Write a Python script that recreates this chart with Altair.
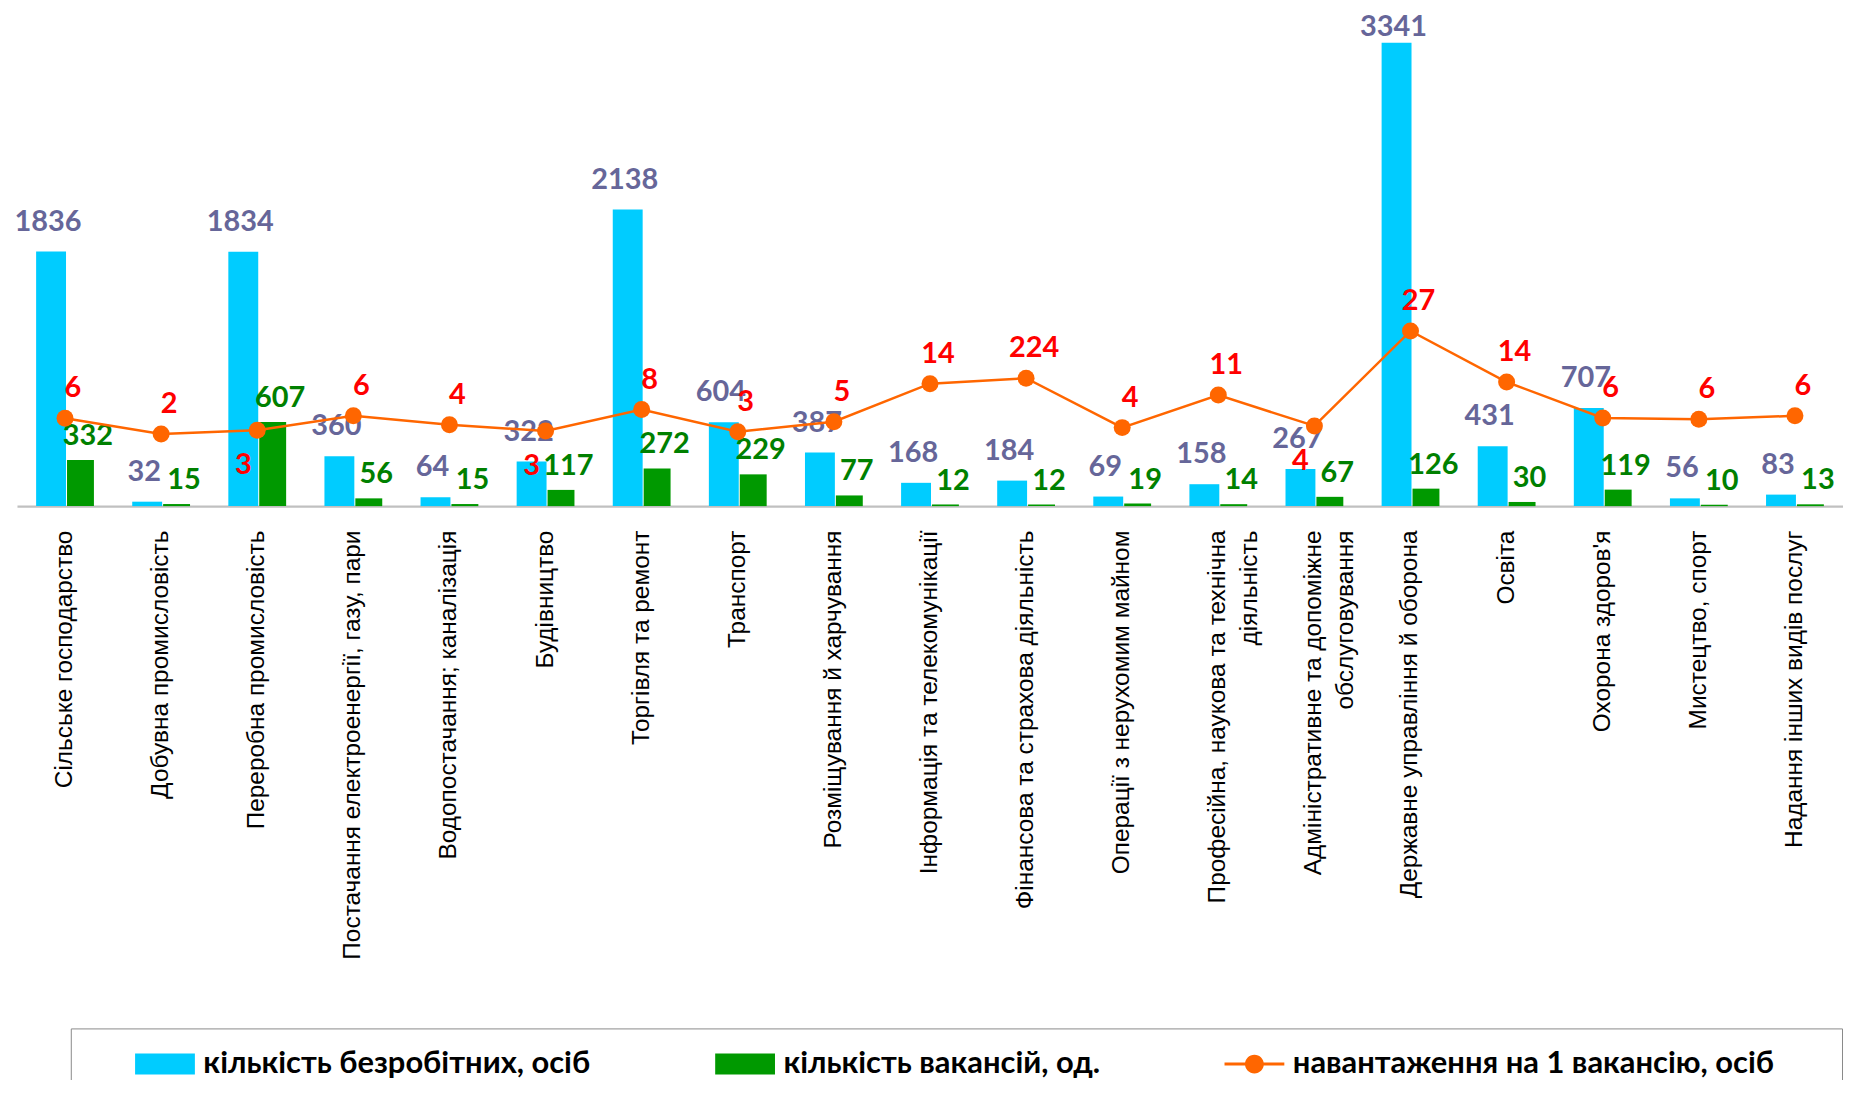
import altair as alt
import pandas as pd

categories = [
    "Сільське господарство",
    "Добувна промисловість",
    "Переробна промисловість",
    "Постачання електроенергії, газу, пари",
    "Водопостачання; каналізація",
    "Будівництво",
    "Торгівля та ремонт",
    "Транспорт",
    "Розміщування й харчування",
    "Інформація та телекомунікації",
    "Фінансова та страхова діяльність",
    "Операції з нерухомим майном",
    "Професійна, наукова та технічна|діяльність",
    "Адміністративне та допоміжне|обслуговування",
    "Державне управління й оборона",
    "Освіта",
    "Охорона здоров'я",
    "Мистецтво, спорт",
    "Надання інших видів послуг",
]
unemployed = [1836, 32, 1834, 360, 64, 322, 2138, 604, 387, 168, 184, 69, 158, 267, 3341, 431, 707, 56, 83]
vacancies = [332, 15, 607, 56, 15, 117, 272, 229, 77, 12, 12, 19, 14, 67, 126, 30, 119, 10, 13]
load_values = [5.8, 2.1, 3.0, 6.4, 4.3, 2.8, 7.9, 2.6, 5.0, 14.0, 15.3, 3.6, 11.3, 4.0, 26.5, 14.4, 5.9, 5.6, 6.4]
load_labels = ["6", "2", "3", "6", "4", "3", "8", "3", "5", "14", "224", "4", "11", "4", "27", "14", "6", "6", "6"]
load_label_below = ["Переробна промисловість", "Будівництво", "Адміністративне та допоміжне|обслуговування"]

s_unemp = "кількість безробітних, осіб"
s_vac = "кількість вакансій, од."
s_load = "навантаження на 1 вакансію, осіб"
series_names = [s_unemp, s_vac, s_load]

BLUE = "#00CCFF"
GREEN = "#009900"
ORANGE = "#FF6600"

df = pd.DataFrame({
    "cat": categories,
    "unemp": unemployed,
    "vac": vacancies,
    "load": load_values,
    "load_label": load_labels,
    "series": s_load,
})

RECT_PATH = "M-2,-0.7H2V0.7H-2Z"
LINE_PATH = "M-2,-0.1H2V0.1H-2Z M-0.63,0A0.63,0.63 0 1,1 0.63,0A0.63,0.63 0 1,1 -0.63,0Z"

x_enc = alt.X(
    "cat:N",
    sort=categories,
    scale=alt.Scale(paddingInner=0, paddingOuter=0),
    axis=alt.Axis(
        title=None,
        labelAngle=-90,
        labelFont="Liberation Sans",
        labelFontSize=24.5,
        labelColor="#000000",
        labelPadding=24,
        labelLimit=1000,
        labelLineHeight=32,
        labelExpr="split(datum.label, '|')",
        ticks=False,
        domainColor="#C0C0C0",
        domainWidth=2.5,
        grid=False,
    ),
)

y_main = alt.Scale(domain=[0, 3500], nice=False, zero=True)
y_load = alt.Scale(domain=[-15, 100], nice=False, zero=False)

base = alt.Chart(df)

blue_bars = base.mark_bar(width=30, xOffset=-14, color=BLUE).encode(
    x=x_enc, y=alt.Y("unemp:Q", scale=y_main, axis=None)
)
green_bars = base.mark_bar(width=27, xOffset=15.5, color=GREEN).encode(
    x=x_enc, y=alt.Y("vac:Q", scale=y_main, axis=None)
)
# labels stay inside the plot area (as the spreadsheet does for the tallest bar)
blue_text = base.transform_calculate(
    label_pos="min(datum.unemp, 3240)"
).mark_text(
    font="Lato", fontSize=29, fontWeight="bold", color="#666699",
    dx=-17, dy=-21, baseline="alphabetic", align="center"
).encode(x=x_enc, y=alt.Y("label_pos:Q", scale=y_main, axis=None), text="unemp:Q")
green_text = base.mark_text(
    font="Lato", fontSize=29, fontWeight="bold", color="#008000",
    dx=23, dy=-15, baseline="alphabetic", align="center"
).encode(x=x_enc, y=alt.Y("vac:Q", scale=y_main, axis=None), text="vac:Q")

primary = alt.layer(blue_bars, green_bars, blue_text, green_text)

legend = alt.Legend(
    orient="none",
    legendX=54,
    legendY=1011,
    direction="horizontal",
    columns=3,
    columnPadding=80,
    padding=20,
    strokeColor="#8A8A8A",
    fillColor="#FFFFFF",
    symbolSize=900,
    symbolOffset=59,
    symbolStrokeWidth=0,
    labelOffset=23,
    labelFont="Lato",
    labelFontSize=31,
    labelFontWeight="bold",
    labelColor="#000000",
    labelLimit=1000,
    title="\u00a0",
    titleOrient="right",
    titlePadding=48,
    titleFontSize=10,
)

line = base.mark_line(color=ORANGE, strokeWidth=2.5).encode(
    x=x_enc, y=alt.Y("load:Q", scale=y_load, axis=None)
)
points = base.mark_point(filled=True, size=290, opacity=1, shape="circle", color=ORANGE).encode(
    x=x_enc,
    y=alt.Y("load:Q", scale=y_load, axis=None),
)
# legend-only layer (no rows drawn): colour + symbol shape per series
legend_layer = base.transform_filter("false").mark_point(filled=True, opacity=1).encode(
    color=alt.Color(
        "series:N",
        scale=alt.Scale(domain=series_names, range=[BLUE, GREEN, ORANGE]),
        legend=legend,
    ),
    shape=alt.Shape(
        "series:N",
        scale=alt.Scale(domain=series_names, range=[RECT_PATH, RECT_PATH, LINE_PATH]),
        legend=legend,
    ),
)
red_above = base.mark_text(
    font="Lato", fontSize=29, fontWeight="bold", color="#FF0000",
    dx=8, dy=-21, baseline="alphabetic", align="center"
).encode(
    x=x_enc, y=alt.Y("load:Q", scale=y_load, axis=None), text="load_label:N"
).transform_filter(~alt.FieldOneOfPredicate(field="cat", oneOf=load_label_below))
red_below = base.mark_text(
    font="Lato", fontSize=29, fontWeight="bold", color="#FF0000",
    dx=-14, dy=44, baseline="alphabetic", align="center"
).encode(
    x=x_enc, y=alt.Y("load:Q", scale=y_load, axis=None), text="load_label:N"
).transform_filter(alt.FieldOneOfPredicate(field="cat", oneOf=load_label_below))

secondary = alt.layer(line, points, red_above, red_below, legend_layer)

chart = alt.layer(primary, secondary).resolve_scale(y="independent").properties(
    width=1832,
    height=487,
    autosize=alt.AutoSizeParams(type="none"),
    padding={"left": 9, "top": 11, "right": 0, "bottom": 574},
    background="#FFFFFF",
).configure_view(stroke=None)

chart.save("out.html", embed_options={"renderer": "svg", "actions": False})
